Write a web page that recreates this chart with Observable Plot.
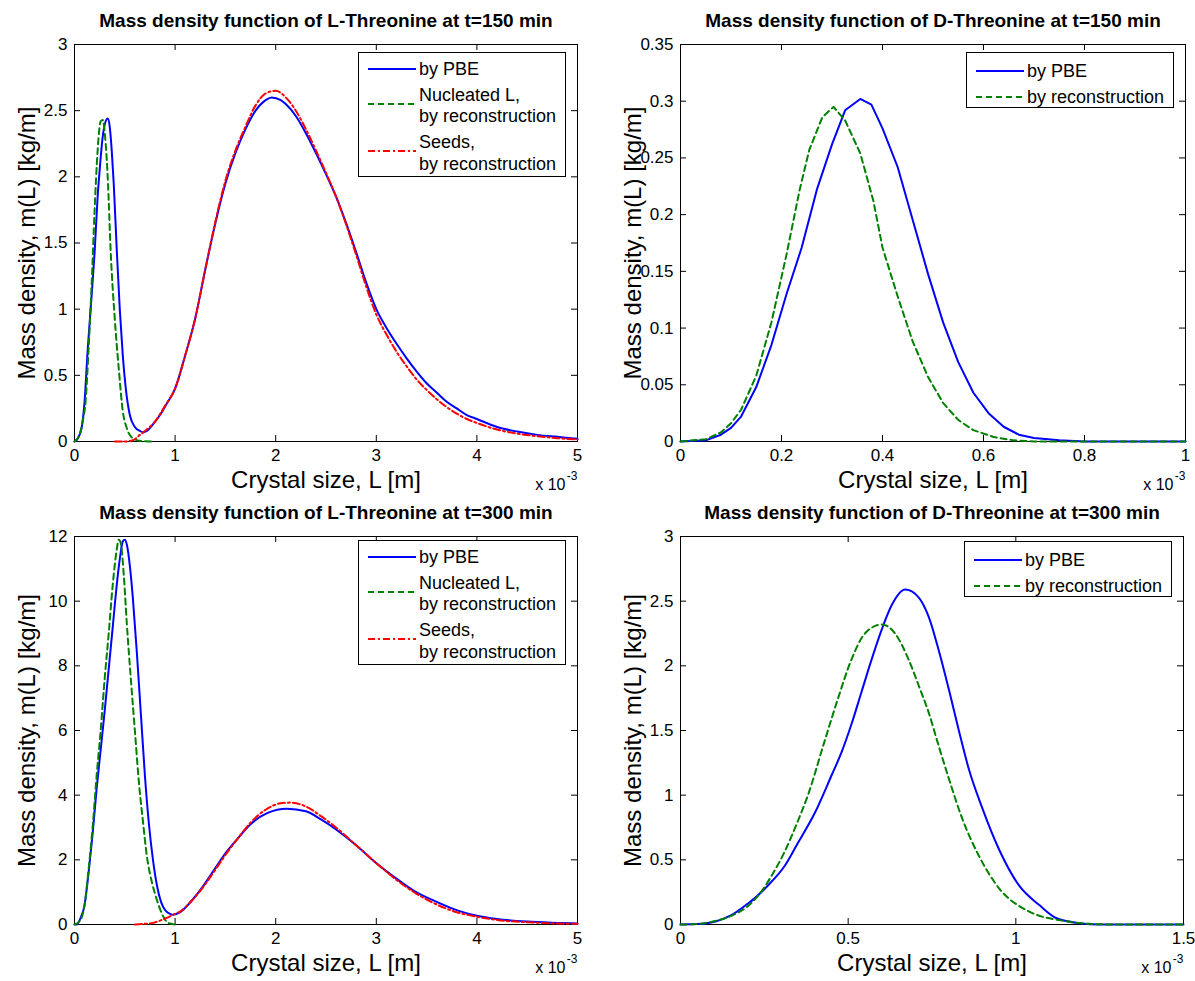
<!DOCTYPE html>
<html><head><meta charset="utf-8">
<script src="https://cdn.jsdelivr.net/npm/d3@7"></script>
<script src="https://cdn.jsdelivr.net/npm/@observablehq/plot@0.6"></script>
<style>
body{margin:0;background:#fff;font-family:"Liberation Sans",Arial,Helvetica,sans-serif}
#root{position:relative;width:1195px;height:981px;overflow:hidden}
.panel{position:absolute}
.legend{position:absolute;box-sizing:border-box;border:1px solid #000;background:#fff}
.legend svg{position:absolute;left:0;top:0}
</style></head>
<body><div id="root"></div>
<script>
const FONT = '"Liberation Sans", Arial, Helvetica, sans-serif';
const XLABEL = "Crystal size, L [m]";
const YLABEL = "Mass density, m(L) [kg/m]";

// tick values (x in units of 1e-3 m)
const xTicksL = [0, 1, 2, 3, 4, 5];
const yTicksTL = [0, 0.5, 1, 1.5, 2, 2.5, 3];
const xTicksTR = [0, 0.2, 0.4, 0.6, 0.8, 1];
const yTicksTR = [0, 0.05, 0.1, 0.15, 0.2, 0.25, 0.3, 0.35];
const yTicksBL = [0, 2, 4, 6, 8, 10, 12];
const xTicksBR = [0, 0.5, 1, 1.5];
const yTicksBR = [0, 0.5, 1, 1.5, 2, 2.5, 3];

// ---- L-Threonine, t=150 min ----
const lThr150_PBE = [[0,0],[0.03,0.02],[0.07,0.1],[0.1,0.3],[0.13,0.68],[0.17,1.1],[0.2,1.43],[0.23,1.85],[0.25,2.05],[0.28,2.3],[0.31,2.42],[0.33,2.44],[0.35,2.38],[0.37,2.2],[0.39,1.95],[0.42,1.45],[0.45,1.0],[0.48,0.65],[0.51,0.4],[0.55,0.2],[0.6,0.11],[0.65,0.08],[0.68,0.07],[0.72,0.08],[0.78,0.13],[0.85,0.2],[0.92,0.29],[1.0,0.4],[1.1,0.65],[1.2,0.93],[1.3,1.3],[1.4,1.65],[1.5,1.95],[1.6,2.18],[1.7,2.36],[1.8,2.5],[1.9,2.58],[1.96,2.6],[2.05,2.58],[2.1,2.55],[2.2,2.46],[2.3,2.33],[2.4,2.18],[2.5,2.02],[2.6,1.85],[2.7,1.65],[2.8,1.43],[2.9,1.2],[3.0,1.0],[3.1,0.86],[3.2,0.74],[3.3,0.63],[3.4,0.53],[3.5,0.44],[3.6,0.37],[3.7,0.3],[3.8,0.25],[3.9,0.2],[4.0,0.17],[4.2,0.11],[4.4,0.075],[4.6,0.05],[4.8,0.035],[5.0,0.02]];
const lThr150_Nuc = [[0,0],[0.05,0.05],[0.08,0.15],[0.11,0.3],[0.14,0.7],[0.17,1.18],[0.2,1.75],[0.23,2.2],[0.26,2.42],[0.28,2.43],[0.31,2.25],[0.33,2.0],[0.36,1.43],[0.4,0.93],[0.44,0.55],[0.48,0.23],[0.52,0.1],[0.57,0.03],[0.65,0.005],[0.78,0]];
const lThr150_Seeds = [[0.4,0],[0.5,0],[0.58,0.01],[0.65,0.05],[0.7,0.08],[0.8,0.15],[0.9,0.27],[1.0,0.4],[1.1,0.65],[1.2,0.93],[1.3,1.3],[1.4,1.66],[1.5,1.97],[1.6,2.2],[1.7,2.38],[1.8,2.54],[1.9,2.63],[2.0,2.65],[2.1,2.6],[2.2,2.5],[2.3,2.36],[2.4,2.2],[2.5,2.03],[2.6,1.85],[2.7,1.64],[2.8,1.41],[2.9,1.17],[3.0,0.96],[3.1,0.81],[3.2,0.68],[3.3,0.57],[3.4,0.47],[3.5,0.39],[3.6,0.32],[3.7,0.26],[3.8,0.21],[3.9,0.17],[4.0,0.14],[4.2,0.09],[4.4,0.06],[4.6,0.04],[4.8,0.025],[5.0,0.015]];

// ---- D-Threonine, t=150 min ----
const dThr150_PBE = [[0,0],[0.05,0.001],[0.08,0.006],[0.1,0.012],[0.12,0.022],[0.15,0.048],[0.18,0.085],[0.21,0.13],[0.24,0.171],[0.27,0.222],[0.3,0.262],[0.326,0.292],[0.356,0.302],[0.378,0.297],[0.4,0.276],[0.43,0.242],[0.46,0.195],[0.49,0.148],[0.52,0.105],[0.55,0.07],[0.58,0.043],[0.61,0.025],[0.64,0.013],[0.67,0.006],[0.7,0.003],[0.75,0.001],[0.8,0],[1,0]];
const dThr150_Rec = [[0,0],[0.05,0.002],[0.08,0.008],[0.1,0.016],[0.12,0.028],[0.15,0.058],[0.18,0.105],[0.195,0.135],[0.21,0.165],[0.236,0.222],[0.255,0.257],[0.281,0.286],[0.303,0.295],[0.326,0.283],[0.356,0.254],[0.382,0.212],[0.4,0.171],[0.43,0.128],[0.46,0.088],[0.49,0.057],[0.52,0.034],[0.55,0.019],[0.58,0.01],[0.62,0.004],[0.66,0.001],[0.7,0],[1,0]];

// ---- L-Threonine, t=300 min ----
const lThr300_PBE = [[0,0],[0.02,0],[0.06,0.2],[0.1,0.6],[0.14,1.6],[0.18,2.8],[0.22,4.2],[0.26,5.4],[0.3,6.6],[0.34,7.9],[0.38,9.2],[0.42,10.5],[0.45,11.3],[0.48,11.85],[0.5,11.9],[0.52,11.75],[0.55,11.1],[0.58,10.1],[0.62,8.4],[0.66,6.5],[0.7,4.6],[0.74,3.1],[0.78,2.0],[0.82,1.2],[0.86,0.7],[0.9,0.45],[0.95,0.33],[0.98,0.3],[1.05,0.38],[1.16,0.72],[1.27,1.15],[1.39,1.7],[1.5,2.2],[1.62,2.65],[1.75,3.1],[1.92,3.45],[2.11,3.58],[2.3,3.5],[2.45,3.25],[2.6,2.94],[2.8,2.45],[2.98,1.95],[3.2,1.42],[3.37,1.05],[3.6,0.7],[3.82,0.42],[4.0,0.27],[4.2,0.17],[4.5,0.09],[4.8,0.05],[5.0,0.03]];
const lThr300_Nuc = [[0,0],[0.05,0.1],[0.1,0.6],[0.14,1.7],[0.18,3.0],[0.22,4.6],[0.26,6.0],[0.3,7.6],[0.34,9.0],[0.38,10.5],[0.42,11.6],[0.44,11.9],[0.46,11.8],[0.49,10.8],[0.52,9.3],[0.56,7.6],[0.6,6.0],[0.64,4.4],[0.68,3.2],[0.72,2.1],[0.77,1.3],[0.82,0.75],[0.86,0.4],[0.9,0.15],[0.95,0.03],[1.0,0]];
const lThr300_Seeds = [[0.6,0],[0.7,0.02],[0.78,0.05],[0.85,0.12],[0.93,0.22],[1.0,0.33],[1.05,0.4],[1.16,0.72],[1.27,1.12],[1.39,1.65],[1.5,2.15],[1.62,2.65],[1.75,3.15],[1.9,3.55],[2.05,3.75],[2.15,3.77],[2.3,3.65],[2.45,3.35],[2.6,3.0],[2.8,2.45],[3.0,1.9],[3.2,1.38],[3.4,0.95],[3.6,0.62],[3.8,0.38],[4.0,0.24],[4.2,0.14],[4.5,0.07],[4.8,0.03],[5.0,0.02]];

// ---- D-Threonine, t=300 min ----
const dThr300_PBE = [[0,0],[0.05,0.003],[0.107,0.025],[0.15,0.07],[0.2,0.16],[0.22,0.2],[0.26,0.3],[0.31,0.45],[0.35,0.63],[0.4,0.86],[0.45,1.15],[0.48,1.33],[0.51,1.55],[0.54,1.8],[0.57,2.05],[0.6,2.28],[0.63,2.47],[0.67,2.59],[0.71,2.53],[0.74,2.38],[0.77,2.12],[0.8,1.82],[0.83,1.5],[0.86,1.2],[0.9,0.9],[0.95,0.58],[1.01,0.3],[1.07,0.15],[1.12,0.05],[1.19,0.01],[1.25,0],[1.5,0]];
const dThr300_Rec = [[0,0],[0.05,0.004],[0.1,0.025],[0.17,0.09],[0.2,0.14],[0.24,0.25],[0.27,0.37],[0.31,0.56],[0.35,0.8],[0.38,1.0],[0.43,1.42],[0.47,1.75],[0.51,2.05],[0.55,2.25],[0.6,2.32],[0.64,2.25],[0.68,2.05],[0.71,1.85],[0.74,1.64],[0.77,1.38],[0.8,1.13],[0.84,0.82],[0.89,0.53],[0.95,0.28],[1.04,0.1],[1.15,0.025],[1.22,0.005],[1.3,0],[1.5,0]];

const BLUE = "#0000ff", GREEN = "#008000", RED = "#ff0000";
const S_PBE = {color: BLUE, dash: null, width: 2};
const S_NUC = {color: GREEN, dash: "6,4", width: 2};
const S_SEED = {color: RED, dash: "7,3,2,3", width: 2};

const root = document.getElementById("root");

function makePanel(cfg) {
  const {left, top, w, h, m} = cfg;
  const pw = w - m.l - m.r, ph = h - m.t - m.b;
  const fmt = d => String(d);
  const lines = cfg.series.map(s => Plot.line(s.data, {
    x: d => d[0], y: d => d[1], stroke: s.style.color, strokeWidth: s.style.width,
    strokeDasharray: s.style.dash, curve: cfg.curve || "monotone-x"
  }));
  const svg = Plot.plot({
    width: w, height: h,
    marginLeft: m.l, marginRight: m.r, marginTop: m.t, marginBottom: m.b,
    style: {fontFamily: FONT, fontSize: "17px", color: "#000", background: "transparent", overflow: "visible"},
    x: {type: "linear", domain: cfg.xDomain},
    y: {type: "linear", domain: cfg.yDomain},
    marks: [
      Plot.frame({stroke: "#000", strokeWidth: 1}),
      Plot.tickX(cfg.xTicks, {x: d => d, insetTop: ph - 6, stroke: "#000"}),
      Plot.tickX(cfg.xTicks, {x: d => d, insetBottom: ph - 6, stroke: "#000"}),
      Plot.tickY(cfg.yTicks, {y: d => d, insetRight: pw - 6, stroke: "#000"}),
      Plot.tickY(cfg.yTicks, {y: d => d, insetLeft: pw - 6, stroke: "#000"}),
      ...lines,
      Plot.axisX(cfg.xTicks, {tickSize: 0, tickPadding: 7, tickFormat: fmt, label: null, fontSize: 17}),
      Plot.axisY(cfg.yTicks, {tickSize: 0, tickPadding: 7, tickFormat: fmt, label: null, fontSize: 17}),
      Plot.text([cfg.title], {frameAnchor: "top", lineAnchor: "middle", textAnchor: "middle", dy: -24, fontSize: 19, fontWeight: "bold"}),
      Plot.text([XLABEL], {frameAnchor: "bottom", lineAnchor: "middle", textAnchor: "middle", dy: 39, fontSize: 24}),
      Plot.text([YLABEL], {frameAnchor: "left", lineAnchor: "middle", textAnchor: "middle", dx: -47, rotate: -90, fontSize: 24}),
      Plot.text(["x 10"], {frameAnchor: "bottom-right", lineAnchor: "middle", textAnchor: "end", dx: -12, dy: 43, fontSize: 16}),
      Plot.text(["-3"], {frameAnchor: "bottom-right", lineAnchor: "middle", textAnchor: "end", dx: 0, dy: 35, fontSize: 12})
    ]
  });
  const div = document.createElement("div");
  div.className = "panel";
  div.style.left = left + "px";
  div.style.top = top + "px";
  div.appendChild(svg);
  root.appendChild(div);
}

function makeLegend(box, entries) {
  const div = document.createElement("div");
  div.className = "legend";
  Object.assign(div.style, {left: box.x + "px", top: box.y + "px", width: box.w + "px", height: box.h + "px"});
  const svg = d3.create("svg").attr("width", box.w).attr("height", box.h)
    .style("font-family", FONT).style("font-size", "18px");
  for (const e of entries) {
    svg.append("line").attr("x1", 9).attr("x2", 57).attr("y1", e.lineY).attr("y2", e.lineY)
      .attr("stroke", e.style.color).attr("stroke-width", e.style.width)
      .attr("stroke-dasharray", e.style.dash);
    e.text.forEach((t, i) => {
      svg.append("text").attr("x", 60).attr("y", e.textY[i]).attr("dy", "0.35em").attr("fill", "#000").text(t);
    });
  }
  div.appendChild(svg.node());
  root.appendChild(div);
}

const mTL = {l: 74, r: 20, t: 44, b: 49};
const mTR = {l: 83, r: 10, t: 44, b: 49};
const mBL = {l: 74, r: 20, t: 46, b: 57};
const mBR = {l: 83, r: 12, t: 46, b: 57};

makePanel({left: 0, top: 0, w: 597, h: 490, m: mTL, xDomain: [0, 5], yDomain: [0, 3],
  xTicks: xTicksL, yTicks: yTicksTL, title: "Mass density function of L-Threonine at t=150 min",
  series: [{data: lThr150_PBE, style: S_PBE}, {data: lThr150_Nuc, style: S_NUC}, {data: lThr150_Seeds, style: S_SEED}]});
makePanel({left: 597, top: 0, w: 598, h: 490, m: mTR, xDomain: [0, 1], yDomain: [0, 0.35],
  xTicks: xTicksTR, yTicks: yTicksTR, title: "Mass density function of D-Threonine at t=150 min", curve: "linear",
  series: [{data: dThr150_PBE, style: S_PBE}, {data: dThr150_Rec, style: S_NUC}]});
makePanel({left: 0, top: 490, w: 597, h: 491, m: mBL, xDomain: [0, 5], yDomain: [0, 12],
  xTicks: xTicksL, yTicks: yTicksBL, title: "Mass density function of L-Threonine at t=300 min",
  series: [{data: lThr300_PBE, style: S_PBE}, {data: lThr300_Nuc, style: S_NUC}, {data: lThr300_Seeds, style: S_SEED}]});
makePanel({left: 597, top: 490, w: 598, h: 491, m: mBR, xDomain: [0, 1.5], yDomain: [0, 3],
  xTicks: xTicksBR, yTicks: yTicksBR, title: "Mass density function of D-Threonine at t=300 min",
  series: [{data: dThr300_PBE, style: S_PBE}, {data: dThr300_Rec, style: S_NUC}]});

const threeEntries = () => [
  {style: S_PBE, lineY: 16, text: ["by PBE"], textY: [16]},
  {style: S_NUC, lineY: 51, text: ["Nucleated L,", "by reconstruction"], textY: [42, 63]},
  {style: S_SEED, lineY: 98, text: ["Seeds,", "by reconstruction"], textY: [89, 111]}
];
const twoEntries = [
  {style: S_PBE, lineY: 18, text: ["by PBE"], textY: [18]},
  {style: S_NUC, lineY: 44, text: ["by reconstruction"], textY: [44]}
];
makeLegend({x: 358, y: 52, w: 208, h: 125}, threeEntries());
makeLegend({x: 966, y: 52, w: 208, h: 56}, twoEntries);
makeLegend({x: 358, y: 540, w: 208, h: 125}, threeEntries());
makeLegend({x: 964, y: 541, w: 208, h: 56}, twoEntries);
</script>
</body></html>
